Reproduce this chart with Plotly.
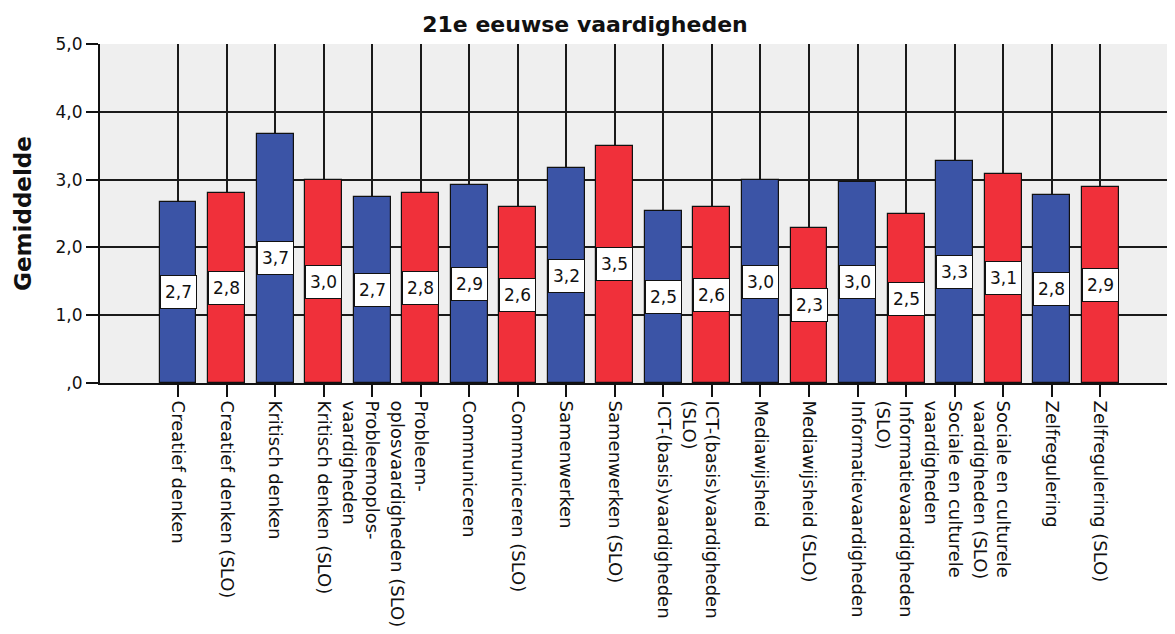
import plotly.graph_objects as go

categories = [
    "Creatief denken", "Creatief denken (SLO)", "Kritisch denken", "Kritisch denken (SLO)",
    "Probleemoplos-<br>vaardigheden", "Probleem-<br>oplosvaardigheden (SLO)",
    "Communiceren", "Communiceren (SLO)", "Samenwerken", "Samenwerken (SLO)",
    "ICT-(basis)vaardigheden", "ICT-(basis)vaardigheden<br>(SLO)",
    "Mediawijsheid", "Mediawijsheid (SLO)", "Informatievaardigheden",
    "Informatievaardigheden<br>(SLO)", "Sociale en culturele<br>vaardigheden",
    "Sociale en culturele<br>vaardigheden (SLO)", "Zelfregulering", "Zelfregulering (SLO)",
]
means = [2.67, 2.80, 3.68, 2.99, 2.74, 2.80, 2.92, 2.60, 3.17, 3.50,
         2.54, 2.60, 2.99, 2.29, 2.97, 2.49, 3.27, 3.09, 2.77, 2.89]
is_slo = [i % 2 == 1 for i in range(len(categories))]
y_ticks = [0, 1, 2, 3, 4, 5]
y_ticktext = [",0", "1,0", "2,0", "3,0", "4,0", "5,0"]

BLUE = "#3B54A6"
RED = "#F0303A"
colors = [RED if s else BLUE for s in is_slo]

# labels met twee regels: lege regel ervoor zodat de eerste regel bij de tick staat
tick_labels = [("&nbsp;<br>" + c) if "<br>" in c else c for c in categories]

fig = go.Figure()
fig.add_trace(go.Bar(
    x=categories, y=means, width=0.76,
    marker=dict(color=colors, line=dict(color="#111", width=1.2)),
    hoverinfo="y",
))

# waardelabels in een wit kader halverwege de staaf
for cat, m in zip(categories, means):
    fig.add_annotation(
        x=cat, y=m / 2, text=f"{m:.1f}".replace(".", ","), showarrow=False,
        font=dict(family="DejaVu Sans", size=17, color="#111"),
        bgcolor="white", bordercolor="#111", borderwidth=1, borderpad=3,
        width=29, height=26,
    )

# de pagina heeft 8px body-marge, dus alles 8px naar links/boven
fig.update_layout(
    width=1175, height=634,
    margin=dict(l=92, r=8, t=36, b=259),
    paper_bgcolor="white", plot_bgcolor="#EFEFEF",
    showlegend=False, bargap=0,
    font=dict(family="DejaVu Sans", color="#111"),
    title=dict(text="<b>21e eeuwse vaardigheden</b>", x=577 / 1175, xanchor="center",
               xref="container", y=1 - 16 / 634, yanchor="middle",
               font=dict(family="DejaVu Sans", size=22, color="#111")),
    xaxis=dict(
        range=[-1.607, 20.54], showgrid=True, gridcolor="#1a1a1a", gridwidth=1.5,
        tickmode="array", tickvals=categories, ticktext=tick_labels,
        ticks="outside", ticklen=12, tickwidth=1.5, tickcolor="#111",
        tickangle=90, tickfont=dict(size=18), automargin=False,
        showline=True, linecolor="#111", linewidth=2,
    ),
    yaxis=dict(
        range=[0, 5], tickvals=y_ticks, ticktext=y_ticktext,
        showgrid=True, gridcolor="#1a1a1a", gridwidth=1.5, zeroline=False,
        ticks="outside", ticklen=12, tickwidth=1.5, tickcolor="#111",
        tickfont=dict(size=17), automargin=False,
        showline=True, linecolor="#111", linewidth=2, mirror=False,
        title=dict(text="<b>Gemiddelde</b>", font=dict(size=23), standoff=18),
    ),
)

fig.write_html("out.html")
